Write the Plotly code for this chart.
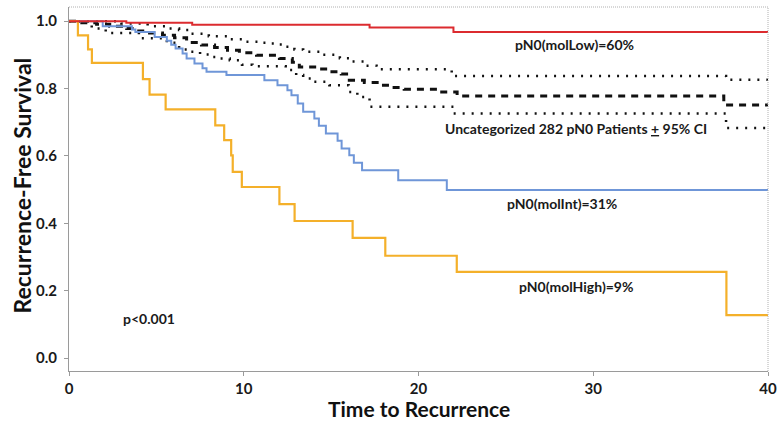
import plotly.graph_objects as go

# ---- data ----
low_t = [0, 3.28, 7.05, 17.2, 22.0, 40]
low_s = [1.0, 0.995, 0.989, 0.981, 0.968, 0.968]

int_t = [0, 1.93, 3.6, 3.8, 4.9, 5.6, 5.85, 6.1, 6.5, 6.73, 7.18, 7.64, 7.87, 9.01,
         11.18, 11.93, 12.5, 12.73, 13.09, 13.4, 14.04, 14.3, 14.7, 15.37, 15.6,
         16.04, 16.3, 16.77, 18.84, 21.62, 40]
int_s = [1.0, 0.985, 0.975, 0.968, 0.953, 0.942, 0.930, 0.919, 0.904, 0.889, 0.874,
         0.860, 0.850, 0.840, 0.825, 0.810, 0.795, 0.780, 0.756, 0.731, 0.711, 0.690,
         0.667, 0.645, 0.622, 0.602, 0.580, 0.558, 0.528, 0.499, 0.499]

high_t = [0, 0.51, 1.09, 1.31, 4.23, 4.61, 5.53, 8.37, 8.88, 9.28, 9.37, 9.89,
          12.04, 12.91, 16.23, 18.10, 22.19, 37.62, 40]
high_s = [1.0, 0.958, 0.916, 0.876, 0.828, 0.782, 0.738, 0.691, 0.647, 0.602, 0.553,
          0.508, 0.457, 0.407, 0.357, 0.304, 0.256, 0.128, 0.128]

all_t = [0, 0.6, 1.58, 2.33, 3.3, 3.87, 4.61, 5.35, 6.04, 6.73, 7.58, 8.33, 9.07,
         9.75, 10.73, 12.04, 12.78, 13.18, 14.15, 14.9, 15.58, 16.04, 16.9, 17.75,
         18.44, 19.18, 21.18, 22.21, 37.47, 40]
all_s = [1.0, 0.995, 0.991, 0.985, 0.978, 0.971, 0.965, 0.958, 0.951, 0.937, 0.929,
         0.922, 0.914, 0.906, 0.899, 0.889, 0.878, 0.864, 0.858, 0.850, 0.843, 0.825,
         0.818, 0.810, 0.803, 0.798, 0.790, 0.778, 0.751, 0.751]

up_t = [0, 3.0, 4.5, 5.5, 6.3, 6.9, 8.0, 9.2, 9.9, 10.8, 11.3, 11.9, 12.3, 12.9,
        13.4, 14.5, 15.5, 16.2, 17.0, 17.6, 21.9, 37.6, 40]
up_s = [1.0, 0.993, 0.985, 0.978, 0.974, 0.963, 0.955, 0.946, 0.939, 0.936, 0.934,
        0.931, 0.924, 0.916, 0.909, 0.900, 0.890, 0.880, 0.868, 0.857, 0.837, 0.826, 0.826]

lo_t = [0, 1.3, 2.1, 4.0, 5.6, 6.3, 6.9, 7.5, 8.0, 8.6, 9.2, 9.9, 10.5, 12.4, 13.0,
        13.4, 14.0, 14.9, 16.0, 16.5, 17.2, 22.0, 37.6, 40]
lo_s = [1.0, 0.978, 0.965, 0.949, 0.936, 0.916, 0.909, 0.901, 0.894, 0.889, 0.884,
        0.871, 0.866, 0.855, 0.840, 0.830, 0.820, 0.810, 0.790, 0.775, 0.746, 0.726,
        0.683, 0.683]

x_ticks = [0, 10, 20, 30, 40]
y_ticks = [0.0, 0.2, 0.4, 0.6, 0.8, 1.0]
y_tick_text = ["0.0", "0.2", "0.4", "0.6", "0.8", "1.0"]

labels = [
    ("pN0(molLow)=60%", 28.9, 0.932),
    ("Uncategorized 282 pN0 Patients <u>+</u> 95% CI", 29.0, 0.683),
    ("pN0(molInt)=31%", 28.2, 0.460),
    ("pN0(molHigh)=9%", 29.0, 0.214),
    ("p<0.001", 4.56, 0.119),
]
x_title = "Time to Recurrence"
y_title = "Recurrence-Free Survival"

FONT = "Lato"

fig = go.Figure()
fig.add_trace(go.Scatter(x=up_t, y=up_s, mode="lines", line_shape="hv",
                         line=dict(color="#111111", width=2.5, dash="2px,7px"),
                         showlegend=False, hoverinfo="skip"))
fig.add_trace(go.Scatter(x=lo_t, y=lo_s, mode="lines", line_shape="hv",
                         line=dict(color="#111111", width=2.5, dash="2px,7px"),
                         showlegend=False, hoverinfo="skip"))
fig.add_trace(go.Scatter(x=all_t, y=all_s, mode="lines", line_shape="hv",
                         line=dict(color="#111111", width=3, dash="7px,6px"),
                         showlegend=False))
fig.add_trace(go.Scatter(x=int_t, y=int_s, mode="lines", line_shape="hv",
                         line=dict(color="#6F96D8", width=2), showlegend=False))
fig.add_trace(go.Scatter(x=high_t, y=high_s, mode="lines", line_shape="hv",
                         line=dict(color="#F4B02A", width=2.2), showlegend=False))
fig.add_trace(go.Scatter(x=low_t, y=low_s, mode="lines", line_shape="hv",
                         line=dict(color="#DC2B2F", width=2), showlegend=False))

for txt, x, y in labels:
    fig.add_annotation(x=x, y=y, text="<b>" + txt + "</b>", showarrow=False,
                       xanchor="center", yanchor="middle",
                       font=dict(family=FONT, size=14, color="#1a1a1a"))

# axis titles as paper annotations
fig.add_annotation(xref="paper", yref="paper", x=0.50, y=-0.102,
                   text="<b>" + x_title + "</b>", showarrow=False,
                   xanchor="center", yanchor="middle",
                   font=dict(family=FONT, size=21, color="#111111"))
fig.add_annotation(xref="paper", yref="paper", x=-0.067, y=0.51,
                   text="<b>" + y_title + "</b>", showarrow=False, textangle=-90,
                   xanchor="center", yanchor="middle",
                   font=dict(family=FONT, size=23, color="#111111"))

# light dotted frame on top and right
fig.add_shape(type="line", xref="paper", yref="paper", x0=0, x1=1, y0=1, y1=1,
              line=dict(color="#b0b0b0", width=1, dash="1px,1px"))
fig.add_shape(type="line", xref="paper", yref="paper", x0=1, x1=1, y0=0, y1=1,
              line=dict(color="#b0b0b0", width=1, dash="1px,1px"))

fig.update_layout(
    width=778, height=422,
    margin=dict(l=69, r=10, t=7, b=51, autoexpand=False),
    paper_bgcolor="white", plot_bgcolor="white",
    font=dict(family=FONT, color="#1a1a1a"),
    xaxis=dict(range=[0, 40], tickvals=x_ticks, showgrid=False, zeroline=False,
               automargin=False,
               showline=True, linecolor="#9a9a9a", linewidth=1,
               ticks="outside", ticklen=4, tickcolor="#9a9a9a",
               tickfont=dict(family=FONT, size=15, color="#1a1a1a", weight="bold")),
    yaxis=dict(range=[-0.038, 1.042], tickvals=y_ticks, ticktext=y_tick_text,
               showgrid=False, zeroline=False, automargin=False,
               showline=True, linecolor="#9a9a9a", linewidth=1,
               ticks="outside", ticklen=4, tickcolor="#9a9a9a", ticklabelstandoff=4,
               tickfont=dict(family=FONT, size=15, color="#1a1a1a", weight="bold")),
)

fig.write_html("out.html", config={"displayModeBar": False},
               post_script="document.body.style.margin='0';document.body.style.padding='0';")
